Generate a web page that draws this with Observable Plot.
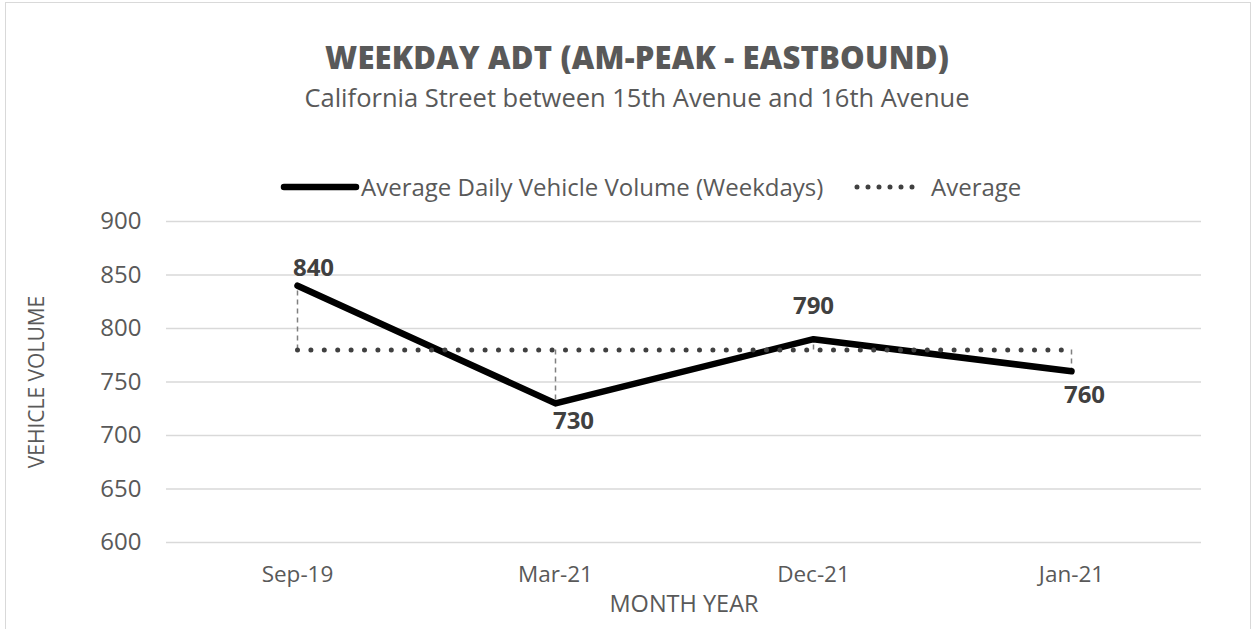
<!DOCTYPE html>
<html>
<head>
<meta charset="utf-8">
<script src="https://cdn.jsdelivr.net/npm/d3@7"></script>
<script src="https://cdn.jsdelivr.net/npm/@observablehq/plot@0.6"></script>
<style>
  html, body { margin: 0; padding: 0; background: #fff; }
  body { font-family: "Open Sans", "Noto Sans", sans-serif; color: #595959; }
  #wrap { position: relative; width: 1254px; height: 629px; overflow: hidden; background: #fff; }
  #frame { position: absolute; left: 5px; top: 2px; width: 1246px; height: 720px; border: 1px solid #d9d9d9; box-sizing: border-box; }
  #header { position: absolute; left: 0; top: 0; width: 1254px; height: 200px; }
  .title { position: absolute; left: 0; width: 1274px; text-align: center; white-space: nowrap; }
  #t1 { top: 37px; font-size: 31px; font-weight: 800; line-height: 40px; letter-spacing: 0.2px; }
  #t2 { top: 79px; font-size: 25.5px; font-weight: 400; line-height: 36px; }
  #legend { position: absolute; top: 172px; left: 0; height: 30px; width: 1254px; }
  .lg { position: absolute; top: 0; height: 30px; line-height: 30px; font-size: 24px; white-space: nowrap; }
  #chart { position: absolute; left: 0; top: 200px; }
</style>
</head>
<body>
<div id="wrap">
  <div id="frame"></div>
  <div id="header">
    <div class="title" id="t1"></div>
    <div class="title" id="t2"></div>
    <div id="legend"></div>
  </div>
  <div id="chart"></div>
</div>
<script>
// ---- data ----
const titleText = "WEEKDAY ADT (AM-PEAK - EASTBOUND)";
const subtitleText = "California Street between 15th Avenue and 16th Avenue";
const months = ["Sep-19", "Mar-21", "Dec-21", "Jan-21"];
const volumes = [840, 730, 790, 760];
const averageValues = [780, 780, 780, 780];
const yTicks = [600, 650, 700, 750, 800, 850, 900];
const seriesNames = ["Average Daily Vehicle Volume (Weekdays)", "Average"];
const yLabel = "VEHICLE VOLUME";
const xLabel = "MONTH YEAR";

// ---- table ----
const data = months.map((m, i) => ({month: m, value: volumes[i], avg: averageValues[i], i}));

document.getElementById("t1").textContent = titleText;
document.getElementById("t2").textContent = subtitleText;

// ---- legend ----
const legend = document.getElementById("legend");
legend.innerHTML = `
  <svg class="lg" style="left:280px;width:80px" width="80" height="30">
    <line x1="4" y1="15" x2="76" y2="15" stroke="#000" stroke-width="6.5" stroke-linecap="round"/>
  </svg>
  <div class="lg" style="left:361px">${seriesNames[0]}</div>
  <svg class="lg" style="left:852px;width:66px" width="66" height="30">
    <line x1="5" y1="15" x2="61" y2="15" stroke="#404040" stroke-width="5" stroke-linecap="round" stroke-dasharray="0,11"/>
  </svg>
  <div class="lg" style="left:931px">${seriesNames[1]}</div>`;

// ---- chart ----
const labelOpts = {x: "month", y: "value", text: d => String(d.value), fontSize: 24, fontWeight: 700, fill: "#404040"};
const plot = Plot.plot({
  width: 1254,
  height: 429,
  marginTop: 21,
  marginBottom: 87,
  marginLeft: 166,
  marginRight: 53,
  style: {fontFamily: '"Open Sans", "Noto Sans", sans-serif', color: "#595959", background: "transparent", overflow: "visible"},
  x: {type: "point", domain: months, padding: 0.5},
  y: {domain: [600, 900], ticks: yTicks},
  marks: [
    Plot.gridY(yTicks, {stroke: "#d9d9d9", strokeOpacity: 1, strokeWidth: 1.5}),
    Plot.axisY(yTicks, {tickSize: 0, tickPadding: 25, fontSize: 24, fill: "#595959", label: null}),
    Plot.axisX(months, {tickSize: 0, tickPadding: 24, fontSize: 22.5, fill: "#595959", label: null}),
    Plot.text([yLabel], {frameAnchor: "left", textAnchor: "middle", dx: -129, rotate: -90, fontSize: 21, fill: "#595959"}),
    Plot.text([xLabel], {frameAnchor: "bottom", dy: 69, fontSize: 23.5, fill: "#595959"}),
    Plot.ruleX(data, {x: "month", y1: "avg", y2: "value", stroke: "#808080", strokeWidth: 1.5, strokeDasharray: "5,4"}),
    Plot.line(data, {x: "month", y: "value", stroke: "#000", strokeWidth: 6.5, strokeLinejoin: "round", strokeLinecap: "round"}),
    Plot.line(data, {x: "month", y: "avg", stroke: "#404040", strokeWidth: 5, strokeLinecap: "round", strokeDasharray: "0,13.4"}),
    Plot.text(data.filter(d => d.i === 0), {...labelOpts, dx: 16, dy: -17}),
    Plot.text(data.filter(d => d.i === 1), {...labelOpts, dx: 18, dy: 18}),
    Plot.text(data.filter(d => d.i === 2), {...labelOpts, dx: 0, dy: -33}),
    Plot.text(data.filter(d => d.i === 3), {...labelOpts, dx: 13, dy: 24})
  ]
});
document.getElementById("chart").appendChild(plot);
</script>
</body>
</html>
